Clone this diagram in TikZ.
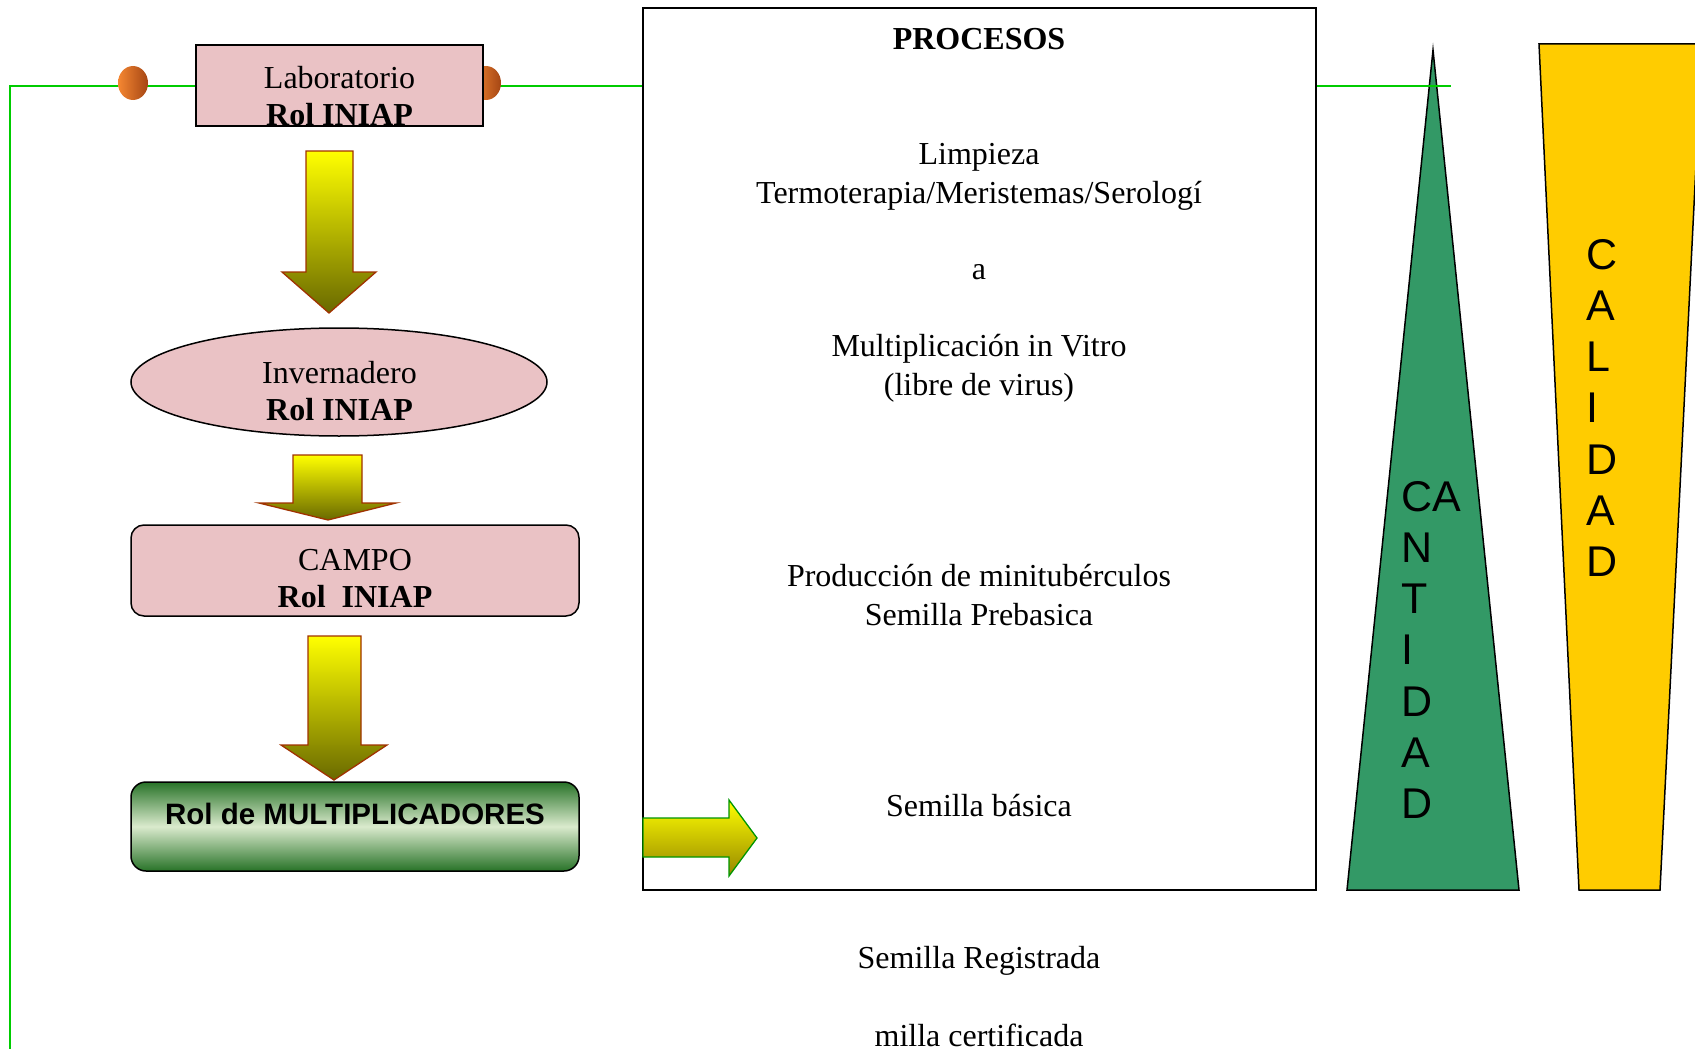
\documentclass[tikz,border=0pt]{standalone}
\usepackage{fontspec}
\setmainfont{Liberation Serif}
\setsansfont{Liberation Sans}
\usetikzlibrary{shapes.geometric}
\definecolor{pinkfill}{RGB}{234,194,197}
\definecolor{lineGreen}{RGB}{0,204,0}
\definecolor{arrowEdge}{RGB}{160,50,0}
\definecolor{oliveA}{RGB}{105,105,0}
\definecolor{oliveB}{RGB}{150,135,0}
\definecolor{edgeGreen}{RGB}{0,150,0}
\definecolor{darkG}{RGB}{40,115,40}
\definecolor{lightG}{RGB}{218,234,205}
\definecolor{triG}{RGB}{51,153,102}
\definecolor{trapY}{RGB}{255,204,0}
\definecolor{orA}{RGB}{245,135,50}
\definecolor{orB}{RGB}{165,70,20}
\begin{document}
\begin{tikzpicture}[x=1pt,y=-1pt,
  txt/.style={font=\fontsize{32}{37}\selectfont, align=center, inner sep=0},
  proc/.style={font=\fontsize{32}{39}\selectfont, align=center, inner sep=0},
  pinkbox/.style={draw=black, line width=1.5pt, fill=pinkfill, inner sep=0},
  downarrow/.style={draw=arrowEdge, line width=1.3pt, top color=yellow, bottom color=oliveA},
  rightarrow/.style={draw=edgeGreen, line width=1.3pt, top color=yellow, bottom color=oliveB},
  greenline/.style={draw=lineGreen, line width=2pt},
  dot/.style={ellipse, minimum width=30, minimum height=34, inner sep=0, left color=orA, right color=orB},
  bigletters/.style={font=\sffamily\fontsize{43}{51.2}\selectfont, align=left, inner sep=0, anchor=north west}]
\useasboundingbox (0,0) rectangle (1695,1049);

% right-hand shapes
\path[draw=black, line width=1.5pt, fill=triG] (1433,50) -- (1519,890) -- (1347,890) -- cycle;
\path[draw=black, line width=1.5pt, fill=trapY] (1539,44) -- (1702,44) -- (1660,890) -- (1579,890) -- cycle;
\node[bigletters] (cant) at (1401,481) {CA\\N\\T\\I\\D\\A\\D};
\node[bigletters] (cal) at (1586,239) {C\\A\\L\\I\\D\\A\\D};

% process box
\node[draw=black, line width=1.5pt, fill=white, minimum width=673, minimum height=882, inner sep=0] (proc) at (979.5,449) {};

% green lines
\coordinate (g0) at (10,1049);
\coordinate (g1) at (10,86);
\coordinate (g2) at (1451,86);
\draw[greenline] (g0) -- (g1) -- (proc.west |- g1);
\draw[greenline] (proc.east |- g1) -- (g2);

% dots and laboratorio
\node[dot] (dotL) at (133,83) {};
\node[dot] (dotR) at (486,83) {};
\node[pinkbox, minimum width=287, minimum height=81] (lab) at (339.5,85.5) {};
\node[txt] (labt) at (339.5,96) {Laboratorio\\\textbf{Rol INIAP}};

% arrow 1
\path[downarrow] (306,151) -- (353,151) -- (353,272) -- (376,272) -- (329,313) -- (282,272) -- (306,272) -- cycle;

% invernadero
\node[pinkbox, ellipse, minimum width=416, minimum height=108] (inv) at (339,382) {};
\node[txt] (invt) at (339.5,391) {Invernadero\\\textbf{Rol INIAP}};

% arrow 2
\path[downarrow] (293,455) -- (362,455) -- (362,503) -- (396,503) -- (328,520) -- (259,503) -- (293,503) -- cycle;

% campo
\node[pinkbox, rounded corners=13, minimum width=448, minimum height=91] (campo) at (355,570.5) {};
\node[txt] (campot) at (355,579) {CAMPO\\\textbf{Rol\ \ INIAP}};

% arrow 3
\path[downarrow] (308,636) -- (361,636) -- (361,745) -- (387,745) -- (334,780) -- (281,745) -- (308,745) -- cycle;

% multiplicadores
\node[draw=black, line width=1.5pt, rounded corners=15, minimum width=448, minimum height=89, inner sep=0,
      top color=darkG, bottom color=darkG, middle color=lightG] (mult) at (355,826.5) {};
\node[font=\sffamily\bfseries\fontsize{29.5}{33}\selectfont, inner sep=0] (multt) at (355,814) {Rol de MULTIPLICADORES};

% right arrow
\path[rightarrow] (643,818) -- (729,818) -- (729,800) -- (757,838) -- (729,876) -- (729,857) -- (643,857) -- cycle;

% process texts
\node[proc] (p0) at (979,39) {\textbf{PROCESOS}};
\node[proc] (p1) at (979,176.5) {Limpieza\\Termoterapia/Meristemas/Serologí};
\node[proc] (p2) at (979,272) {a};
\node[proc] (p3) at (979,368.5) {Multiplicación in Vitro\\(libre de virus)};
\node[proc] (p4) at (979,595.5) {Producción de minitubérculos\\Semilla Prebasica};
\node[proc] (p5) at (979,806) {Semilla básica};
\node[proc] (p6) at (979,961) {Semilla Registrada};
\node[proc] (p7) at (979,1035) {milla certificada};
\end{tikzpicture}
\end{document}
